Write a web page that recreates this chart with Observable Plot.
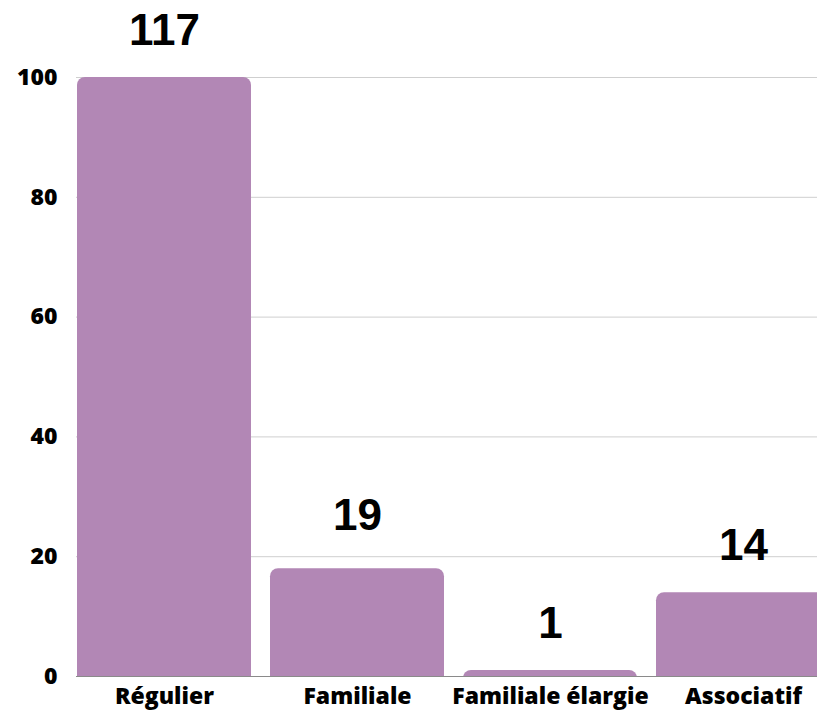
<!DOCTYPE html>
<html>
<head>
<meta charset="utf-8">
<script src="https://cdn.jsdelivr.net/npm/d3@7"></script>
<script src="https://cdn.jsdelivr.net/npm/@observablehq/plot@0.6"></script>
<style>
  html, body { margin: 0; padding: 0; background: #fff; overflow: hidden; }
  #chart svg { overflow: hidden; }
</style>
</head>
<body>
<div id="chart"></div>
<script>
const categories = ["Régulier", "Familiale", "Familiale élargie", "Associatif"];
const barValues = [117, 18, 1, 14];
const labelValues = [117, 19, 1, 14];
const yTicks = [0, 20, 40, 60, 80, 100];
const yMax = 100;

const data = categories.map((c, i) => ({category: c, value: barValues[i], label: labelValues[i]}));

const chart = Plot.plot({
  width: 817,
  height: 711,
  marginLeft: 76,
  marginRight: 0,
  marginTop: 77,
  marginBottom: 35,
  style: {background: "#fff", color: "#000"},
  x: {domain: categories, range: [76, 830], paddingInner: 0.1, paddingOuter: 0, label: null},
  y: {domain: [0, yMax], label: null},
  marks: [
    Plot.ruleY(yTicks.filter(t => t > 0), {stroke: "#cfcfcf", strokeWidth: 1, strokeOpacity: 1}),
    Plot.barY(data, {
      x: "category",
      y1: -3,
      y2: d => Math.min(d.value, yMax),
      fill: "#b287b5",
      rx: 8,
      clip: true
    }),
    Plot.ruleY([0], {stroke: "#8a8a8a", strokeWidth: 1}),
    Plot.text(data, {
      x: "category",
      y: d => Math.min(d.label, yMax),
      text: d => String(d.label),
      lineAnchor: "bottom",
      dy: -33,
      fontSize: 44,
      fontWeight: "bold",
      fontFamily: "Liberation Sans, Arial, sans-serif",
      fill: "#000"
    }),
    Plot.axisY(yTicks, {
      tickSize: 0,
      tickPadding: 19,
      fontSize: 23,
      fontWeight: 800,
      fontFamily: "Open Sans, sans-serif",
      fill: "#000",
      label: null
    }),
    Plot.axisX({
      tickSize: 0,
      tickPadding: 11,
      fontSize: 23,
      fontWeight: 800,
      fontFamily: "Open Sans, sans-serif",
      fill: "#000",
      label: null
    })
  ]
});
document.getElementById("chart").appendChild(chart);
</script>
</body>
</html>
